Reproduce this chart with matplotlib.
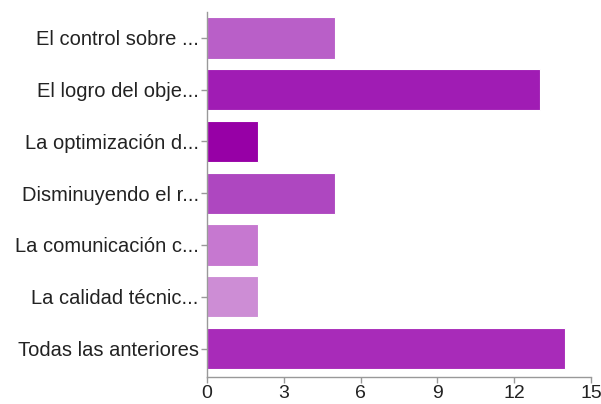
import matplotlib
matplotlib.use("Agg")
import matplotlib.pyplot as plt
import numpy as np

labels = ["El control sobre ...", "El logro del obje...", "La optimización d...",
          "Disminuyendo el r...", "La comunicación c...", "La calidad técnic...",
          "Todas las anteriores"]
counts = [5, 13, 2, 5, 2, 2, 14]
colors = ["#B95FC8", "#A01CB4", "#9700A6", "#AE47C0", "#C678D0", "#CD8DD5", "#A82BB9"]
xticks = [0, 3, 6, 9, 12, 15]

plt.rcParams['font.family'] = ['Liberation Sans', 'DejaVu Sans']

fig = plt.figure(figsize=(6.01, 4.04), dpi=100)
ax = fig.add_axes([0.3444, 0.0668, 0.639, 0.9035])

y = np.arange(len(labels))
ax.barh(y, counts, height=0.8, color=colors, edgecolor="white", linewidth=0.8)

ax.set_ylim(len(labels) - 0.45, -0.5)
ax.set_xlim(0, 15)
ax.set_yticks(y)
ax.set_yticklabels(labels, fontsize=14.5, color="#222222")
ax.set_xticks(xticks)
ax.set_xticklabels([str(t) for t in xticks], fontsize=14, color="#222222")

for s in ["top", "right"]:
    ax.spines[s].set_visible(False)
for s in ["left", "bottom"]:
    ax.spines[s].set_color("#999999")
    ax.spines[s].set_linewidth(1.0)
ax.tick_params(axis="both", colors="#999999", length=4, width=1.0, labelcolor="#222222")
ax.tick_params(axis="y", pad=2)
ax.tick_params(axis="x", pad=1.5)

fig.savefig("out.png", dpi=100)
